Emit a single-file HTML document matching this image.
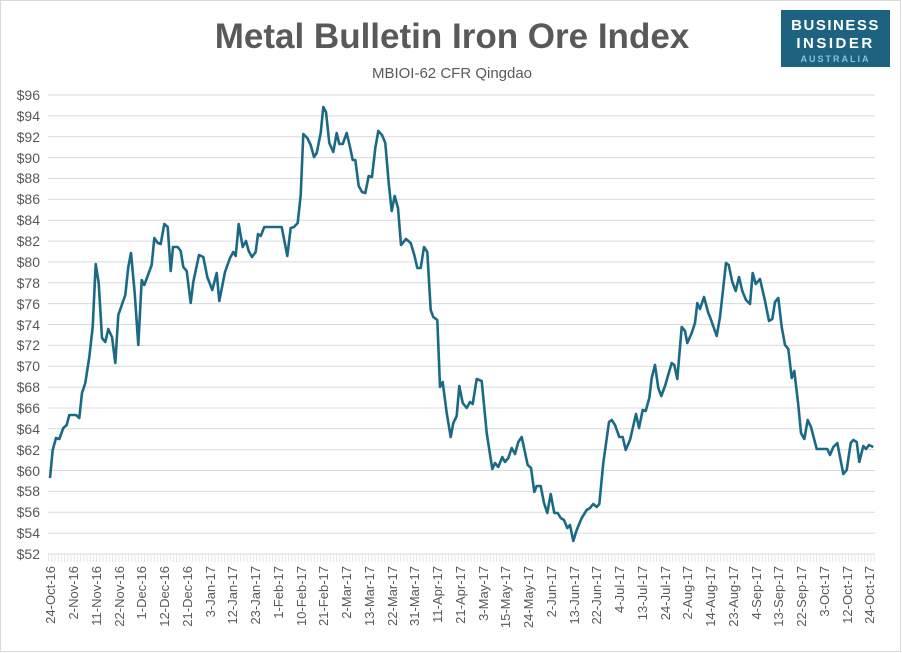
<!DOCTYPE html>
<html><head><meta charset="utf-8"><style>
html,body{margin:0;padding:0;background:#fff;}
svg{display:block;font-family:"Liberation Sans",sans-serif;}
</style></head><body>
<svg width="902" height="653" viewBox="0 0 902 653" xmlns="http://www.w3.org/2000/svg">
<rect x="0.5" y="0.5" width="900" height="651" fill="#fff" stroke="#d9d9d9"/>
<text x="452" y="48" text-anchor="middle" font-size="35" font-weight="bold" fill="#595959">Metal Bulletin Iron Ore Index</text>
<text x="452" y="78" text-anchor="middle" font-size="15" fill="#595959">MBIOI-62 CFR Qingdao</text>
<rect x="781" y="10" width="109" height="57" fill="#1d6380"/>
<text x="835.5" y="30" text-anchor="middle" font-size="15" font-weight="bold" fill="#fff" letter-spacing="1.5">BUSINESS</text>
<text x="835.5" y="48" text-anchor="middle" font-size="15" font-weight="bold" fill="#fff" letter-spacing="2.5">INSIDER</text>
<text x="835.5" y="62" text-anchor="middle" font-size="9" font-weight="bold" fill="#7fc4dd" letter-spacing="2">AUSTRALIA</text>
<g stroke="#d9d9d9" stroke-width="1">
<line x1="48" x2="875" y1="95" y2="95"/><line x1="48" x2="875" y1="115.9" y2="115.9"/><line x1="48" x2="875" y1="136.7" y2="136.7"/><line x1="48" x2="875" y1="157.6" y2="157.6"/><line x1="48" x2="875" y1="178.5" y2="178.5"/><line x1="48" x2="875" y1="199.3" y2="199.3"/><line x1="48" x2="875" y1="220.2" y2="220.2"/><line x1="48" x2="875" y1="241.1" y2="241.1"/><line x1="48" x2="875" y1="261.9" y2="261.9"/><line x1="48" x2="875" y1="282.8" y2="282.8"/><line x1="48" x2="875" y1="303.6" y2="303.6"/><line x1="48" x2="875" y1="324.5" y2="324.5"/><line x1="48" x2="875" y1="345.4" y2="345.4"/><line x1="48" x2="875" y1="366.2" y2="366.2"/><line x1="48" x2="875" y1="387.1" y2="387.1"/><line x1="48" x2="875" y1="408" y2="408"/><line x1="48" x2="875" y1="428.8" y2="428.8"/><line x1="48" x2="875" y1="449.7" y2="449.7"/><line x1="48" x2="875" y1="470.5" y2="470.5"/><line x1="48" x2="875" y1="491.4" y2="491.4"/><line x1="48" x2="875" y1="512.3" y2="512.3"/><line x1="48" x2="875" y1="533.1" y2="533.1"/><line x1="48" x2="875" y1="554" y2="554"/>
</g>
<line x1="48" x2="875" y1="558" y2="558" stroke="#e6e6e6" stroke-width="8" stroke-dasharray="1 2.2"/>
<g font-size="14" fill="#595959" text-anchor="end">
<text x="40" y="100">$96</text><text x="40" y="121">$94</text><text x="40" y="142">$92</text><text x="40" y="163">$90</text><text x="40" y="183">$88</text><text x="40" y="204">$86</text><text x="40" y="225">$84</text><text x="40" y="246">$82</text><text x="40" y="267">$80</text><text x="40" y="288">$78</text><text x="40" y="309">$76</text><text x="40" y="330">$74</text><text x="40" y="350">$72</text><text x="40" y="371">$70</text><text x="40" y="392">$68</text><text x="40" y="413">$66</text><text x="40" y="434">$64</text><text x="40" y="455">$62</text><text x="40" y="476">$60</text><text x="40" y="496">$58</text><text x="40" y="517">$56</text><text x="40" y="538">$54</text><text x="40" y="559">$52</text>
</g>
<g font-size="13" fill="#595959" text-anchor="end" id="xl"></g>
<polyline fill="none" stroke="#1b6a85" stroke-width="2.6" stroke-linejoin="round" points="50,478 52.7,450 56,438 59.3,439 63.3,428 66.7,425 69.3,415 76,415 79.3,418 82,393 85.3,383 89.3,357 92.7,327 95.7,264 98.7,283 102,338 105.3,342 108.3,329 112,337 115.3,363 118.3,315 125.3,295 128.3,267 131,253 134.7,293 138.3,345 141.7,280 144.3,285 151.7,265 154.3,238 157.7,243 160.7,244 164.3,224 167.7,227 170.7,271 173,247 177.7,247 180.7,251 183.3,267 186.7,271 190.7,303 193.3,282 199,255 203.3,257 207.3,277 212.3,290 216.7,273 219.3,301 225,272 230,258 233.3,252 235.7,256 238.7,224 242.7,247 246,241 248.7,251 252,257 255.7,252 258,234 260.7,236 264.3,227 281.7,227 287.3,256 290.7,228 294,227 297.7,223 300.7,195 303.3,134 307.3,138 310.7,145 314,157 316.7,153 320.7,133 323.3,107 326,112 329.3,143 333.3,152 336.7,133 339.3,144 342.7,144 346.7,133 350,147 352.7,160 355.3,160 358.7,186 362,192 365.3,193 368.7,176 372,177 375.3,148 378.3,131 382,135 385.3,143 388.7,183 391.7,211 394.7,196 398,208 401,245 406,239 410.7,243 414.3,255 417.3,268 420.7,268 424,247 427.3,252 430.7,310 433.3,317 437.3,320 440,387 442.7,382 446.7,413 450.7,437 453.3,423 456.7,416 459.3,386 462.7,403 466.7,408 470,402 472.7,404 476.7,379 481.7,381 486.7,433 492.3,469 495,463 498.3,467 502.3,457 505,462 508.3,458 511.7,448 515,454 518.3,442 521.7,437 527.7,465 531,468 534.3,492 536.7,486 540.7,486 544,503 547.3,513 550.7,494 554.3,513 557.7,513 560.7,518 564,520 567.3,528 570,525 573.3,541 576.7,530 581.7,518 586.7,510 590,508 593.3,504 596.7,507 599.3,504 603.3,463 609,422 611.7,420 615,425 619.3,437 622.7,437 625.7,450 630,440 636,414 639,428 642.7,410 645.7,411 649.3,398 651.7,378 655,365 658.3,388 661.3,396 665,386 671.7,363 674.3,365 677.3,379 681.7,327 685,331 687.3,343 691.7,333 695,323 697.3,303 700,309 704,297 708.3,313 710,317 716.7,336 720,317 726,263 728.7,265 732.3,282 735.7,291 739,277 742.3,291 746,300 750,304 752.7,273 755.7,284 760,279 765,301 769,321 772.3,319 775,302 778.3,298 781.7,327 785,345 788.3,349 791.7,378 794.3,371 798.3,405 801,433 804.3,439 807.7,420 811,427 816.7,449 827.3,449 830,455 833.3,447 837.3,443 843.3,474 846.7,470 850.7,443 853.3,440 856.7,442 859.3,462 863.3,446 866,449 869,445 873.3,447"/>
<g font-size="13" fill="#595959" text-anchor="end">
<text transform="translate(55,566) rotate(-90)">24-Oct-16</text>
<text transform="translate(78,566) rotate(-90)">2-Nov-16</text>
<text transform="translate(101,566) rotate(-90)">11-Nov-16</text>
<text transform="translate(124,566) rotate(-90)">22-Nov-16</text>
<text transform="translate(146,566) rotate(-90)">1-Dec-16</text>
<text transform="translate(169,566) rotate(-90)">12-Dec-16</text>
<text transform="translate(192,566) rotate(-90)">21-Dec-16</text>
<text transform="translate(215,566) rotate(-90)">3-Jan-17</text>
<text transform="translate(237,566) rotate(-90)">12-Jan-17</text>
<text transform="translate(260,566) rotate(-90)">23-Jan-17</text>
<text transform="translate(283,566) rotate(-90)">1-Feb-17</text>
<text transform="translate(306,566) rotate(-90)">10-Feb-17</text>
<text transform="translate(328,566) rotate(-90)">21-Feb-17</text>
<text transform="translate(351,566) rotate(-90)">2-Mar-17</text>
<text transform="translate(374,566) rotate(-90)">13-Mar-17</text>
<text transform="translate(397,566) rotate(-90)">22-Mar-17</text>
<text transform="translate(419,566) rotate(-90)">31-Mar-17</text>
<text transform="translate(442,566) rotate(-90)">11-Apr-17</text>
<text transform="translate(465,566) rotate(-90)">21-Apr-17</text>
<text transform="translate(488,566) rotate(-90)">3-May-17</text>
<text transform="translate(510,566) rotate(-90)">15-May-17</text>
<text transform="translate(533,566) rotate(-90)">24-May-17</text>
<text transform="translate(556,566) rotate(-90)">2-Jun-17</text>
<text transform="translate(579,566) rotate(-90)">13-Jun-17</text>
<text transform="translate(601,566) rotate(-90)">22-Jun-17</text>
<text transform="translate(624,566) rotate(-90)">4-Jul-17</text>
<text transform="translate(647,566) rotate(-90)">13-Jul-17</text>
<text transform="translate(670,566) rotate(-90)">24-Jul-17</text>
<text transform="translate(692,566) rotate(-90)">2-Aug-17</text>
<text transform="translate(715,566) rotate(-90)">14-Aug-17</text>
<text transform="translate(738,566) rotate(-90)">23-Aug-17</text>
<text transform="translate(761,566) rotate(-90)">4-Sep-17</text>
<text transform="translate(783,566) rotate(-90)">13-Sep-17</text>
<text transform="translate(806,566) rotate(-90)">22-Sep-17</text>
<text transform="translate(829,566) rotate(-90)">3-Oct-17</text>
<text transform="translate(852,566) rotate(-90)">12-Oct-17</text>
<text transform="translate(874,566) rotate(-90)">24-Oct-17</text>
</g>
</svg>
</body></html>
